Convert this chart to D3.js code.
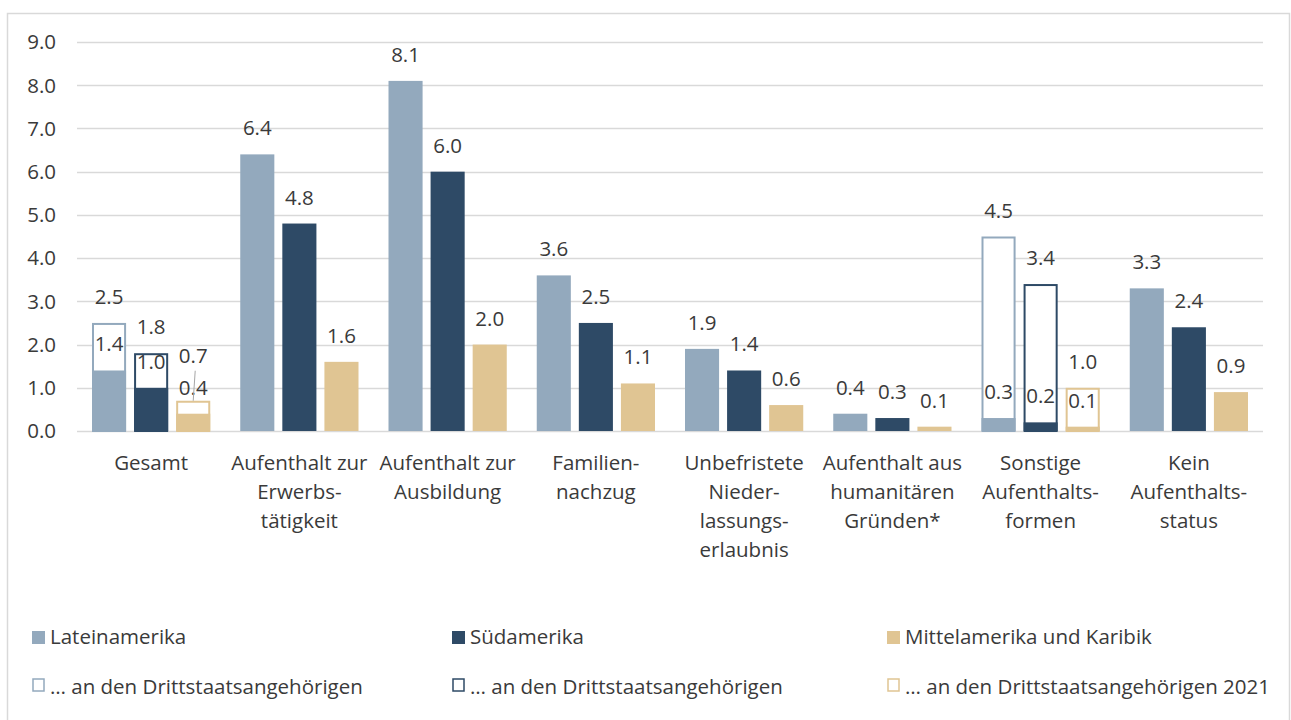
<!DOCTYPE html>
<html>
<head>
<meta charset="utf-8">
<script src="https://cdn.jsdelivr.net/npm/d3@7"></script>
<style>
  body { margin: 0; background: #fff; }
  svg text { font-family: "Open Sans", "Noto Sans", sans-serif; fill: #3a3a3a; font-size: 20.5px; }
</style>
</head>
<body>
<svg id="chart" width="1291" height="720"></svg>
<script>
// Kategorien (x-Achse), mehrzeilig
var categories = [
  ['Gesamt'],
  ['Aufenthalt zur', 'Erwerbs-', 'tätigkeit'],
  ['Aufenthalt zur', 'Ausbildung'],
  ['Familien-', 'nachzug'],
  ['Unbefristete', 'Nieder-', 'lassungs-', 'erlaubnis'],
  ['Aufenthalt aus', 'humanitären', 'Gründen*'],
  ['Sonstige', 'Aufenthalts-', 'formen'],
  ['Kein', 'Aufenthalts-', 'status']
];
var seriesNames = ['Lateinamerika', 'Südamerika', 'Mittelamerika und Karibik'];
var outlineNames = ['… an den Drittstaatsangehörigen', '… an den Drittstaatsangehörigen', '… an den Drittstaatsangehörigen 2021'];
var colors = ['#93a9bd', '#2e4a66', '#e0c593'];

// Werte
var lateinamerika = [1.4, 6.4, 8.1, 3.6, 1.9, 0.4, 0.3, 3.3];
var suedamerika   = [1.0, 4.8, 6.0, 2.5, 1.4, 0.3, 0.2, 2.4];
var mittelamerika = [0.4, 1.6, 2.0, 1.1, 0.6, 0.1, 0.1, 0.9];
// Umrandete Balken (Drittstaatsangehörige), nur Gesamt und Sonstige
var lateinDritt = [2.5, null, null, null, null, null, 4.5, null];
var suedDritt   = [1.8, null, null, null, null, null, 3.4, null];
var mittelDritt = [0.7, null, null, null, null, null, 1.0, null];

var yTicks = [0, 1, 2, 3, 4, 5, 6, 7, 8, 9];

var filled = [lateinamerika, suedamerika, mittelamerika];
var outlined = [lateinDritt, suedDritt, mittelDritt];

var svg = d3.select('#chart');

// Rahmen
svg.append('rect')
  .attr('x', 7.5).attr('y', 13.5)
  .attr('width', 1282).attr('height', 720)
  .attr('fill', 'none').attr('stroke', '#d9d9d9').attr('stroke-width', 1.5);

var x = d3.scaleBand()
  .domain(d3.range(categories.length))
  .range([77, 1263]);

var inner = d3.scaleBand()
  .domain([0, 1, 2])
  .range([15, x.bandwidth() - 15])
  .paddingInner(0.19);

var y = d3.scaleLinear()
  .domain([0, 9])
  .range([431, 42]);

// Gitterlinien
svg.append('g')
  .selectAll('line')
  .data(yTicks)
  .enter()
  .append('line')
  .attr('x1', 77).attr('x2', 1263)
  .attr('y1', function(d) { return Math.round(y(d)) + 0.5; })
  .attr('y2', function(d) { return Math.round(y(d)) + 0.5; })
  .attr('stroke', '#d9d9d9')
  .attr('stroke-width', function(d) { return d === 0 ? 1.5 : 1.3; });

// y-Achse Beschriftung
svg.append('g')
  .selectAll('text')
  .data(yTicks)
  .enter()
  .append('text')
  .attr('x', 56)
  .attr('y', function(d) { return y(d); })
  .attr('dy', '0.36em')
  .attr('text-anchor', 'end')
  .text(function(d) { return d.toFixed(1); });

var groups = svg.append('g')
  .selectAll('g')
  .data(categories)
  .enter()
  .append('g')
  .attr('transform', function(d, i) { return 'translate(' + x(i) + ',0)'; });

[0, 1, 2].forEach(function(s) {
  // umrandete Balken
  groups.filter(function(d, i) { return outlined[s][i] !== null; })
    .append('rect')
    .attr('x', inner(s) + 1)
    .attr('width', inner.bandwidth() - 2)
    .attr('y', function(d) { return y(outlined[s][categories.indexOf(d)]) + 1; })
    .attr('height', function(d) { return y(0) - y(outlined[s][categories.indexOf(d)]) - 1; })
    .attr('fill', '#fff')
    .attr('stroke', colors[s])
    .attr('stroke-width', 2);

  // gefüllte Balken
  groups.append('rect')
    .attr('x', inner(s))
    .attr('width', inner.bandwidth())
    .attr('y', function(d, i) { return y(filled[s][i]); })
    .attr('height', function(d, i) { return y(0) - y(filled[s][i]); })
    .attr('fill', colors[s]);
});

// Werte-Beschriftungen
[0, 1, 2].forEach(function(s) {
  groups.append('text')
    .attr('x', inner(s) + inner.bandwidth() / 2)
    .attr('y', function(d, i) { return y(filled[s][i]) - 19; })
    .attr('text-anchor', 'middle')
    .text(function(d, i) { return filled[s][i].toFixed(1); });

  groups.filter(function(d, i) { return outlined[s][i] !== null; })
    .append('text')
    .attr('x', inner(s) + inner.bandwidth() / 2)
    .attr('y', function(d) {
      var i = categories.indexOf(d);
      var v = outlined[s][i];
      // Label bei Mittelamerika Gesamt höher gesetzt (mit Führungslinie)
      var off = (i === 0 && s === 2) ? 38 : 19;
      return y(v) - off;
    })
    .attr('text-anchor', 'middle')
    .text(function(d) { return outlined[s][categories.indexOf(d)].toFixed(1); });
});

// Führungslinie für 0.7
svg.append('line')
  .attr('x1', x(0) + inner(2) + inner.bandwidth() / 2 + 2)
  .attr('x2', x(0) + inner(2) + inner.bandwidth() / 2)
  .attr('y1', y(mittelDritt[0]) - 30)
  .attr('y2', y(mittelDritt[0]))
  .attr('stroke', '#a6a6a6')
  .attr('stroke-width', 1);

// x-Achse Beschriftung
groups.append('text')
  .attr('x', x.bandwidth() / 2)
  .attr('y', 470)
  .attr('text-anchor', 'middle')
  .selectAll('tspan')
  .data(function(d) { return d; })
  .enter()
  .append('tspan')
  .attr('x', x.bandwidth() / 2)
  .attr('dy', function(d, i) { return i === 0 ? 0 : 29; })
  .text(function(d) { return d; });

// Legende
var legendX = [32, 452, 887];
var legend = svg.append('g');
seriesNames.forEach(function(name, i) {
  legend.append('rect')
    .attr('x', legendX[i]).attr('y', 631)
    .attr('width', 13).attr('height', 13)
    .attr('fill', colors[i]);
  legend.append('text')
    .attr('x', legendX[i] + 18).attr('y', 644)
    .text(name);
});
outlineNames.forEach(function(name, i) {
  legend.append('rect')
    .attr('x', legendX[i] + 1).attr('y', 679)
    .attr('width', 11).attr('height', 12)
    .attr('fill', '#fff')
    .attr('stroke', colors[i]).attr('stroke-width', 1.5);
  legend.append('text')
    .attr('x', legendX[i] + 18).attr('y', 694)
    .text(name);
});
</script>
</body>
</html>
